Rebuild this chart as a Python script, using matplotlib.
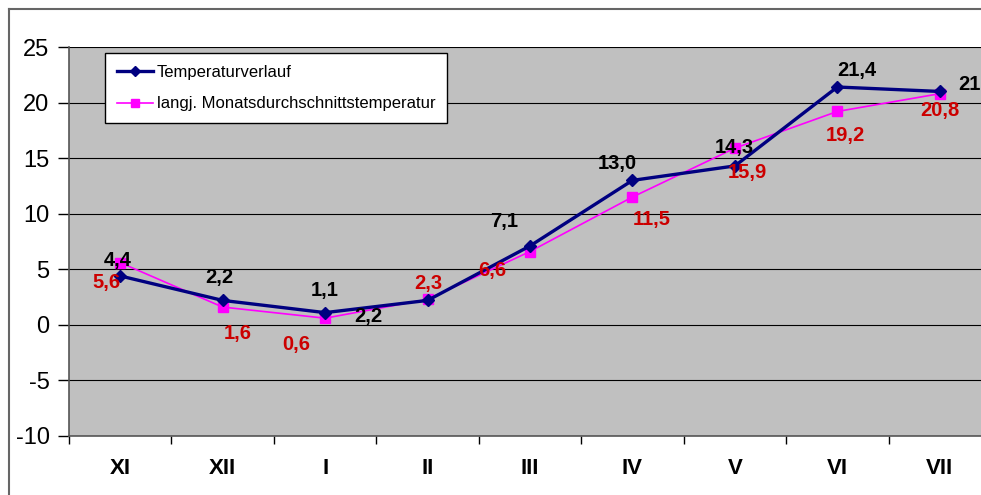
import numpy as np
import matplotlib.pyplot as plt
from matplotlib.lines import Line2D

plt.rcParams['font.family'] = ['Liberation Sans', 'DejaVu Sans']

# Daten
monate = ['XI', 'XII', 'I', 'II', 'III', 'IV', 'V', 'VI', 'VII']
temperatur = [4.4, 2.2, 1.1, 2.2, 7.1, 13.0, 14.3, 21.4, 21.0]
mittel = [5.6, 1.6, 0.6, 2.3, 6.6, 11.5, 15.9, 19.2, 20.8]

# Verschiebung der Beschriftungen (Pixel, rechts / oben)
off_temp = [(-3, 15), (-3, 23), (0, 22), (-59, -16), (-26, 24), (-15, 17), (-1, 18), (19, 17), (38, 7)]
off_mittel = [(-14, -20), (15, -26), (-29, -26), (1, 16), (-38, -19), (19, -22), (12, -24), (8, -24), (0, -17)]

fig = plt.figure(figsize=(9.81, 4.95), dpi=100)
W, H = 981, 495
ax = fig.add_axes([69 / W, 59 / H, (991 - 69) / W, (436 - 47) / H])
ax.set_facecolor('#C0C0C0')

x = np.arange(len(monate))
ax.plot(x, temperatur, color='#000080', lw=2.4, marker='D', ms=6.5, label='Temperaturverlauf', zorder=4)
ax.plot(x, mittel, color='#FF00FF', lw=1.2, marker='s', ms=7,
        label='langj. Monatsdurchschnittstemperatur', zorder=3)

for i, v in enumerate(temperatur):
    ax.annotate(f'{v:.1f}'.replace('.', ','), (x[i], v), xytext=off_temp[i],
                textcoords='offset pixels', ha='center', va='center',
                fontsize=14.5, fontweight='bold', color='black', zorder=5)
for i, v in enumerate(mittel):
    ax.annotate(f'{v:.1f}'.replace('.', ','), (x[i], v), xytext=off_mittel[i],
                textcoords='offset pixels', ha='center', va='center',
                fontsize=14.5, fontweight='bold', color='#CC0000', zorder=5)

ax.set_xlim(-0.5, len(monate) - 0.5)
ax.set_ylim(-10, 25)
ax.set_yticks(np.arange(-10, 26, 5))
ax.set_yticklabels([str(t) for t in range(-10, 26, 5)], fontsize=17)
ax.set_xticks(x)
ax.set_xticklabels(monate, fontsize=16, fontweight='bold')
ax.set_xticks(np.arange(-0.5, len(monate)), minor=True)
ax.tick_params(axis='x', which='major', length=0, pad=16)
ax.tick_params(axis='x', which='minor', length=6, width=1, color='black')
ax.tick_params(axis='y', length=8, width=1, color='black', pad=6)
ax.grid(axis='y', color='black', lw=0.8)
ax.set_axisbelow(True)
for s in ['top', 'right']:
    ax.spines[s].set_visible(False)
for s in ['left', 'bottom']:
    ax.spines[s].set_color('#555555')
    ax.spines[s].set_linewidth(1.2)

leg = ax.legend(loc='upper left', bbox_to_anchor=(105 / W, 1 - 53 / H), bbox_transform=fig.transFigure,
                borderaxespad=0, fontsize=12, frameon=True, fancybox=False, handlelength=2.2,
                handletextpad=0.2, labelspacing=1.0, borderpad=0.7, markerscale=0.8)
leg.get_frame().set_edgecolor('black')
leg.get_frame().set_facecolor('white')
leg.get_frame().set_alpha(1)
leg.get_frame().set_linewidth(1)

# Rahmen
fig.add_artist(Line2D([9 / W, 9 / W], [0, 1 - 9 / H], transform=fig.transFigure, color='#666666', lw=1.5))
fig.add_artist(Line2D([9 / W, 1], [1 - 9 / H, 1 - 9 / H], transform=fig.transFigure, color='#666666', lw=1.5))

fig.savefig('out.png', dpi=100)
